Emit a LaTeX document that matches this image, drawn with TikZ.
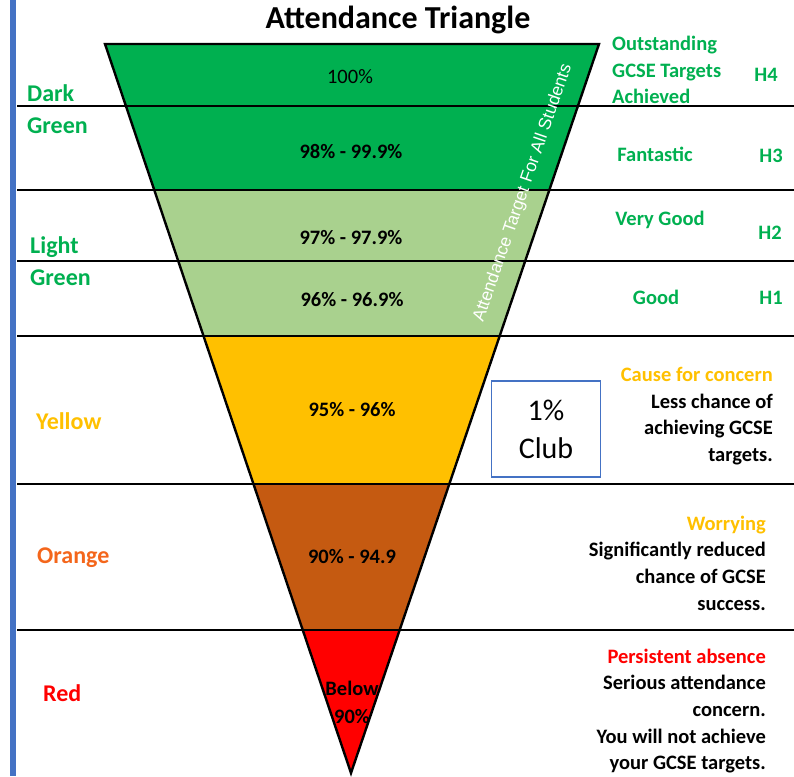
\documentclass[tikz,border=0pt]{standalone}
\usepackage{fontspec}
\setmainfont{Carlito}
\newfontfamily\arialfont{Liberation Sans}
\usepackage{xcolor}
\usepackage{tikz}

\definecolor{darkgrn}{HTML}{00B050}
\definecolor{lightgrn}{HTML}{A9D18E}
\definecolor{amber}{HTML}{FFC000}
\definecolor{rustbrown}{HTML}{C55A11}
\definecolor{barblue}{HTML}{4472C4}
\definecolor{tagorange}{HTML}{F4661B}

\begin{document}
\begin{tikzpicture}[x=1pt, y=-1pt,
    rule/.style={draw=black, line width=2.4pt},
    lefttag/.style={anchor=west, align=left, inner sep=0pt, font=\bfseries\fontsize{24}{32}\selectfont},
    righttag/.style={inner sep=0pt, font=\bfseries\fontsize{20.5}{26.6}\selectfont, text=darkgrn},
    note/.style={anchor=east, align=right, inner sep=0pt, font=\bfseries\fontsize{20.5}{26.6}\selectfont},
    pct/.style={inner sep=0pt, font=\bfseries\fontsize{20.5}{28}\selectfont, align=center}]
    \useasboundingbox (0,0) rectangle (794,776);
    \fill[barblue] (10,0) rectangle (16,776);
    % coloured bands inside the triangle
    \begin{scope}
        \clip (105,44) -- (599,44) -- (351,773) -- cycle;
        \fill[darkgrn] (0,40) rectangle (794,190);
        \fill[lightgrn] (0,190) rectangle (794,336);
        \fill[amber] (0,336) rectangle (794,484);
        \fill[rustbrown] (0,484) rectangle (794,630);
        \fill[red] (0,630) rectangle (794,780);
    \end{scope}
    \draw[rule] (105,44) -- (599,44) -- (351,773) -- cycle;
    \foreach \y in {106,190,261,336,484,630}
        \draw[rule] (17,\y) -- (794,\y);

    \node[font=\bfseries\fontsize{32}{32}\selectfont] (title) at (398,20) {Attendance Triangle};

    \node[lefttag, text=darkgrn] (dkgreen) at (27,109) {Dark\\Green};
    \node[lefttag, text=darkgrn] (ltgreen) at (30,261) {Light\\Green};
    \node[lefttag, text=amber] (yellow) at (36,421) {Yellow};
    \node[lefttag, text=tagorange] (orange) at (37,558) {Orange};
    \node[lefttag, text=red] (redtag) at (43,693) {Red};

    \node[pct, font=\fontsize{20.5}{28}\selectfont] (p100) at (350,77) {100\%};
    \node[pct] (p98) at (351,152) {98\% - 99.9\%};
    \node[pct] (p97) at (351,238) {97\% - 97.9\%};
    \node[pct] (p96) at (352,300) {96\% - 96.9\%};
    \node[pct] (p95) at (352,410) {95\% - 96\%};
    \node[pct] (p90) at (352,557) {90\% - 94.9};
    \node[pct] (below) at (352,702) {Below\\90\%};

    \node[white, rotate=71, inner sep=0pt, font=\arialfont\fontsize{17.5}{17.5}\selectfont] (target) at (523,193) {Attendance Target For All Students};

    \node[righttag, anchor=west, align=left] (outst) at (612,70) {Outstanding\\GCSE Targets\\Achieved};
    \node[righttag] (fant) at (655,154) {Fantastic};
    \node[righttag] (vgood) at (660,220) {Very Good};
    \node[righttag] (good) at (656,297) {Good};
    \node[righttag] (h4) at (766,75) {H4};
    \node[righttag] (h3) at (771,156) {H3};
    \node[righttag] (h2) at (770,233) {H2};
    \node[righttag] (h1) at (771,298) {H1};

    \node[draw=barblue, line width=1.8pt, minimum width=109, minimum height=96, align=center, font=\fontsize{30}{38}\selectfont] (club) at (546,429) {1\%\\Club};

    \node[note] (cause) at (773,416) {\textcolor{amber}{Cause for concern}\\Less chance of\\achieving GCSE\\targets.};
    \node[note] (worry) at (766,563) {\textcolor{amber}{Worrying}\\Significantly reduced\\chance of GCSE\\success.};
    \node[note] (persist) at (766,711) {\textcolor{red}{Persistent absence}\\Serious attendance\\concern.\\You will not achieve\\your GCSE targets.};
\end{tikzpicture}
\end{document}
